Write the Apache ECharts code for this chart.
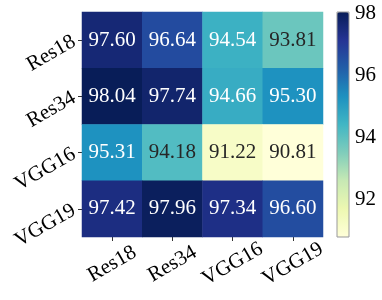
<!DOCTYPE html>
<html><head><meta charset="utf-8">
<script src="https://cdn.jsdelivr.net/npm/echarts@6/dist/echarts.min.js"></script>
<style>html,body{margin:0;padding:0;background:#fff}#c{width:382px;height:300px}</style>
</head><body><div id="c"></div>
<script>
const xCats = ['Res18', 'Res34', 'VGG16', 'VGG19'];
const yCats = ['Res18', 'Res34', 'VGG16', 'VGG19'];
const rowRes18 = [97.60, 96.64, 94.54, 93.81];
const rowRes34 = [98.04, 97.74, 94.66, 95.30];
const rowVGG16 = [95.31, 94.18, 91.22, 90.81];
const rowVGG19 = [97.42, 97.96, 97.34, 96.60];
const cbTicks = [92, 94, 96, 98];
const vMin = 90.81, vMax = 98.04;

const rows = [rowRes18, rowRes34, rowVGG16, rowVGG19];
const data = [];
rows.forEach((row, yi) => row.forEach((v, xi) => {
  data.push({ value: [xi, yi, v], label: { color: v < 94.4 ? '#262626' : '#ffffff' } });
}));
const FONT = '"Liberation Serif", "DejaVu Serif", serif';
const chart = echarts.init(document.getElementById('c'), null, { renderer: 'canvas' });
chart.setOption({
  animation: false,
  grid: [
    { left: 82, top: 12, width: 241, height: 225 },
    { left: 337, top: 12, width: 12, height: 225, show: true, borderColor: '#999', borderWidth: 1, backgroundColor: 'transparent', z: 10 }
  ],
  xAxis: [
    { type: 'category', data: xCats, gridIndex: 0, position: 'bottom',
      axisLine: { show: false }, splitLine: { show: false },
      axisTick: { show: true, alignWithLabel: true, length: 4, lineStyle: { color: '#333' } },
      axisLabel: { rotate: 30, align: 'center', verticalAlign: 'middle', margin: 27, fontFamily: FONT, fontSize: 21, color: '#000' } },
    { type: 'value', gridIndex: 1, show: false, min: 0, max: 1 }
  ],
  yAxis: [
    { type: 'category', data: yCats, gridIndex: 0, inverse: true,
      axisLine: { show: false }, splitLine: { show: false },
      axisTick: { show: true, alignWithLabel: true, length: 4, lineStyle: { color: '#333' } },
      axisLabel: { rotate: 30, margin: 8, fontFamily: FONT, fontSize: 21, color: '#000' } },
    { type: 'value', gridIndex: 1, position: 'right', min: vMin, max: vMax,
      axisLine: { show: false }, splitLine: { show: false },
      axisTick: { show: true, length: 4, customValues: cbTicks, lineStyle: { color: '#333' } },
      axisLabel: { customValues: cbTicks, margin: 6, fontFamily: FONT, fontSize: 21, color: '#000' } }
  ],
  visualMap: {
    type: 'continuous', min: vMin, max: vMax, seriesIndex: 0,
    calculable: false, left: 337, top: 12, itemWidth: 12, itemHeight: 225, padding: 0,
    text: null, showLabel: false,
    inRange: { color: ['#ffffd9', '#edf8b1', '#c7e9b4', '#7fcdbb', '#41b6c4', '#1d91c0', '#225ea8', '#253494', '#081d58'] }
  },
  series: [{
    type: 'heatmap', xAxisIndex: 0, yAxisIndex: 0, data: data,
    label: { show: true, fontFamily: FONT, fontSize: 21, formatter: p => p.value[2].toFixed(2) },
    itemStyle: { borderWidth: 0 },
    emphasis: { disabled: true }
  }]
});
</script></body></html>
